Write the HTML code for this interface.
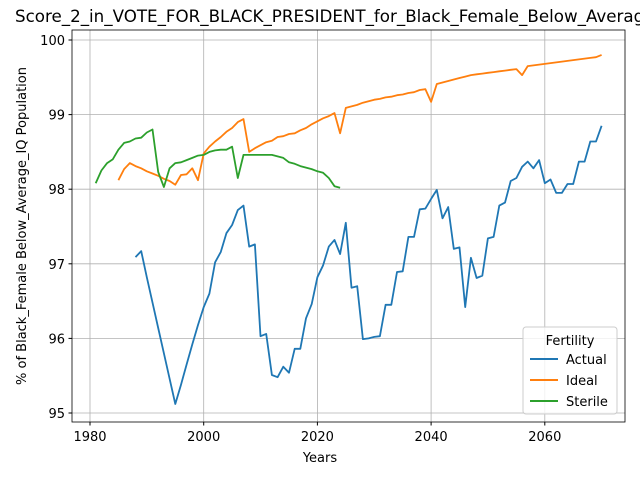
<!DOCTYPE html>
<html><head><meta charset="utf-8"><style>
body{margin:0;background:#fff;}
svg{font-family:"DejaVu Sans","Liberation Sans",sans-serif;}
</style></head><body>
<svg id="chart" width="640" height="480" viewBox="0 0 640 480" xmlns="http://www.w3.org/2000/svg">
<text x="15" y="22" font-size="16.7" fill="#000">Score_2_in_VOTE_FOR_BLACK_PRESIDENT_for_Black_Female_Below_Average_IQ Population</text>
<g id="grid"></g>
<g id="series"></g>
<rect x="72" y="30" width="553" height="392" fill="none" stroke="#000" stroke-width="0.8"/>
<g id="ticks"></g>
<text x="320" y="462" font-size="13" text-anchor="middle">Years</text>
<text transform="translate(26,226) rotate(-90)" font-size="13" text-anchor="middle">% of Black_Female Below_Average_IQ Population</text>
<g>
<rect x="523" y="327" width="94" height="87" rx="3" fill="#fff" fill-opacity="0.8" stroke="#ccc"/>
<text x="570" y="345" font-size="13" text-anchor="middle">Fertility</text>
<line x1="530" y1="359" x2="558" y2="359" stroke="#1f77b4" stroke-width="2"/>
<text x="566" y="364" font-size="13">Actual</text>
<line x1="530" y1="380" x2="558" y2="380" stroke="#ff7f0e" stroke-width="2"/>
<text x="566" y="385" font-size="13">Ideal</text>
<line x1="530" y1="401" x2="558" y2="401" stroke="#2ca02c" stroke-width="2"/>
<text x="566" y="406" font-size="13">Sterile</text>
</g>
</svg>
<script>
const xTicks=[1980,2000,2020,2040,2060];
const yTicks=[95,96,97,98,99,100];
const actualStart=1988;
const actual=[97.09,97.17,96.82,96.48,96.14,95.8,95.46,95.12,95.38,95.65,95.92,96.18,96.42,96.6,97.02,97.16,97.41,97.52,97.72,97.78,97.23,97.26,96.03,96.06,95.51,95.48,95.62,95.54,95.86,95.86,96.27,96.46,96.82,96.98,97.23,97.32,97.13,97.55,96.68,96.7,95.99,96.0,96.02,96.03,96.45,96.45,96.89,96.9,97.36,97.36,97.73,97.74,97.87,97.99,97.61,97.76,97.2,97.22,96.42,97.08,96.81,96.84,97.34,97.36,97.78,97.82,98.11,98.15,98.3,98.37,98.28,98.39,98.08,98.13,97.95,97.95,98.07,98.07,98.37,98.37,98.64,98.64,98.85];
const idealStart=1985;
const ideal=[98.12,98.27,98.35,98.31,98.28,98.24,98.21,98.18,98.14,98.11,98.06,98.19,98.2,98.28,98.12,98.48,98.57,98.64,98.7,98.77,98.82,98.9,98.94,98.5,98.55,98.59,98.63,98.65,98.7,98.71,98.74,98.75,98.79,98.82,98.87,98.91,98.95,98.98,99.02,98.75,99.09,99.11,99.13,99.16,99.18,99.2,99.21,99.23,99.24,99.26,99.27,99.29,99.3,99.33,99.34,99.17,99.41,99.43,99.45,99.47,99.49,99.51,99.53,99.54,99.55,99.56,99.57,99.58,99.59,99.6,99.61,99.53,99.65,99.66,99.67,99.68,99.69,99.7,99.71,99.72,99.73,99.74,99.75,99.76,99.77,99.8];
const sterileStart=1981;
const sterile=[98.08,98.25,98.35,98.4,98.53,98.62,98.64,98.68,98.69,98.76,98.8,98.23,98.03,98.28,98.35,98.36,98.39,98.42,98.45,98.46,98.5,98.52,98.53,98.53,98.57,98.15,98.46,98.46,98.46,98.46,98.46,98.46,98.44,98.42,98.36,98.34,98.31,98.29,98.27,98.24,98.22,98.15,98.04,98.02];
const NS="http://www.w3.org/2000/svg";
function xs(yr){return 90+(yr-1980)*5.685;}
function ys(v){return 40+(100-v)*74.6;}
const grid=document.getElementById('grid'),ticks=document.getElementById('ticks'),ser=document.getElementById('series');
xTicks.forEach(t=>{
 const l=document.createElementNS(NS,'line');
 
 
 l.setAttribute('x1',xs(t));l.setAttribute('x2',xs(t));l.setAttribute('y1',30);l.setAttribute('y2',422);l.setAttribute('stroke','#b0b0b0');l.setAttribute('stroke-width','0.8');grid.appendChild(l);
 const k=document.createElementNS(NS,'line');
 
 
 k.setAttribute('x1',xs(t));k.setAttribute('x2',xs(t));k.setAttribute('y1',422);k.setAttribute('y2',425.5);k.setAttribute('stroke','#000');ticks.appendChild(k);
 const tx=document.createElementNS(NS,'text');
 
 
 tx.setAttribute('x',xs(t));tx.setAttribute('y',441);tx.setAttribute('font-size','13');tx.setAttribute('text-anchor','middle');tx.textContent=t;ticks.appendChild(tx);
});
yTicks.forEach(t=>{
 const l=document.createElementNS(NS,'line');
 
 
 l.setAttribute('x1',72);l.setAttribute('x2',625);l.setAttribute('y1',ys(t));l.setAttribute('y2',ys(t));l.setAttribute('stroke','#b0b0b0');l.setAttribute('stroke-width','0.8');grid.appendChild(l);
 const k=document.createElementNS(NS,'line');
 
 
 k.setAttribute('x1',68.5);k.setAttribute('x2',72);k.setAttribute('y1',ys(t));k.setAttribute('y2',ys(t));k.setAttribute('stroke','#000');ticks.appendChild(k);
 const tx=document.createElementNS(NS,'text');
 
 
 tx.setAttribute('x',65);tx.setAttribute('y',ys(t)+5);tx.setAttribute('font-size','13');tx.setAttribute('text-anchor','end');tx.textContent=t;ticks.appendChild(tx);
});
function line(vals,start,color,name){
 const p=document.createElementNS(NS,'polyline');
 
 
 p.setAttribute('points',vals.map((v,i)=>xs(start+i).toFixed(1)+','+ys(v).toFixed(1)).join(' '));
 p.setAttribute('fill','none');p.setAttribute('stroke',color);p.setAttribute('stroke-width','1.8');p.setAttribute('stroke-linejoin','round');
 ser.appendChild(p);
}
line(actual,actualStart,'#1f77b4','actual-line');
line(ideal,idealStart,'#ff7f0e','ideal-line');
line(sterile,sterileStart,'#2ca02c','sterile-line');
</script>
</body></html>
